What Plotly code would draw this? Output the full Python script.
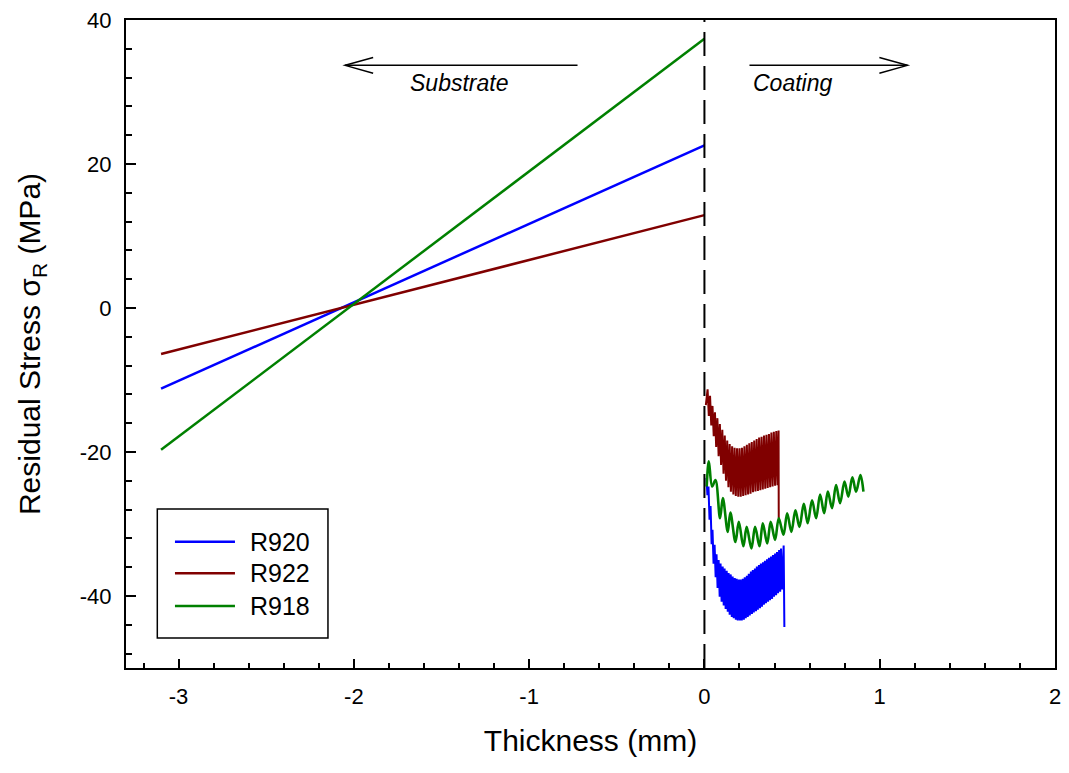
import plotly.graph_objects as go

# ---------------- data ----------------
samples = ["R920", "R922", "R918"]
colors = ["#0000FF", "#800000", "#008000"]

# substrate: linear profiles (thickness, stress)
sub_x = [-3.1, 0.0]
sub_R920 = [-11.2, 22.6]
sub_R922 = [-6.4, 12.9]
sub_R918 = [-19.7, 37.4]

# coating: oscillating profiles
coat_R920_x = [0.012, 0.017, 0.023, 0.029, 0.035, 0.041, 0.046, 0.052, 0.058, 0.064,
               0.069, 0.075, 0.081, 0.087, 0.092, 0.098, 0.104, 0.110, 0.115, 0.121,
               0.127, 0.133, 0.138, 0.144, 0.150, 0.156, 0.161, 0.167, 0.173, 0.179,
               0.184, 0.190, 0.196, 0.202, 0.207, 0.213, 0.219, 0.225, 0.230, 0.236,
               0.242, 0.248, 0.253, 0.259, 0.265, 0.271, 0.276, 0.282, 0.288, 0.294,
               0.299, 0.305, 0.311, 0.317, 0.322, 0.328, 0.334, 0.340, 0.345, 0.351,
               0.357, 0.363, 0.368, 0.374, 0.380, 0.386, 0.391, 0.397, 0.403, 0.409,
               0.414, 0.420, 0.426, 0.432, 0.437, 0.443, 0.452, 0.456]
coat_R920_y = [-23.6, -26.0, -24.8, -29.4, -27.5, -32.8, -30.8, -35.5, -32.9, -37.4,
               -34.2, -38.9, -35.0, -40.1, -35.5, -40.8, -35.9, -41.3, -36.2, -41.8,
               -36.5, -42.2, -36.8, -42.6, -37.0, -42.9, -37.3, -43.1, -37.5, -43.3,
               -37.6, -43.4, -37.7, -43.4, -37.7, -43.4, -37.6, -43.3, -37.4, -43.1,
               -37.2, -42.9, -36.9, -42.7, -36.6, -42.5, -36.4, -42.3, -36.2, -42.1,
               -35.9, -41.9, -35.7, -41.7, -35.5, -41.5, -35.3, -41.2, -35.1, -41.0,
               -34.9, -40.8, -34.7, -40.6, -34.5, -40.4, -34.3, -40.1, -34.1, -39.9,
               -33.9, -39.6, -33.6, -39.4, -33.4, -39.1, -33.0, -44.3]

coat_R922_x = [0.008, 0.018, 0.025, 0.032, 0.039, 0.046, 0.053, 0.060, 0.067, 0.074,
               0.081, 0.088, 0.095, 0.102, 0.109, 0.116, 0.123, 0.130, 0.137, 0.144,
               0.151, 0.158, 0.165, 0.172, 0.179, 0.186, 0.193, 0.200, 0.207, 0.214,
               0.221, 0.228, 0.235, 0.242, 0.249, 0.256, 0.263, 0.270, 0.277, 0.284,
               0.291, 0.298, 0.305, 0.312, 0.319, 0.326, 0.333, 0.340, 0.347, 0.354,
               0.361, 0.368, 0.375, 0.382, 0.389, 0.396, 0.403, 0.410, 0.417, 0.423,
               0.424]
coat_R922_y = [-13.5, -11.3, -15.0, -12.2, -16.3, -13.6, -17.8, -14.5, -19.3, -15.3,
               -20.6, -16.1, -21.8, -16.9, -23.0, -17.7, -24.0, -18.4, -24.9, -18.9,
               -25.5, -19.2, -25.9, -19.4, -26.1, -19.5, -26.2, -19.5, -26.2, -19.4,
               -26.1, -19.2, -26.0, -19.0, -25.9, -18.8, -25.8, -18.6, -25.6, -18.4,
               -25.5, -18.2, -25.4, -18.0, -25.3, -17.9, -25.2, -17.7, -25.1, -17.6,
               -25.0, -17.5, -24.9, -17.3, -24.8, -17.2, -24.7, -17.1, -24.6, -17.0,
               -29.2]

coat_R918_x = [0.013, 0.025, 0.044, 0.063, 0.089, 0.105, 0.133, 0.148, 0.177, 0.196,
               0.222, 0.241, 0.268, 0.289, 0.314, 0.333, 0.358, 0.378, 0.403, 0.424,
               0.451, 0.472, 0.496, 0.519, 0.542, 0.567, 0.589, 0.614, 0.637, 0.660,
               0.683, 0.704, 0.728, 0.751, 0.774, 0.799, 0.821, 0.844, 0.865, 0.890,
               0.907]
coat_R918_y = [-24.8, -21.3, -24.8, -23.9, -29.2, -26.4, -31.1, -28.4, -32.5, -29.7,
               -33.1, -30.4, -33.4, -30.4, -33.1, -29.9, -32.7, -29.7, -32.2, -29.2,
               -31.5, -28.5, -31.1, -28.1, -30.4, -27.2, -29.9, -26.7, -29.2, -25.9,
               -28.5, -25.5, -27.8, -24.6, -27.1, -24.1, -26.2, -23.5, -25.5, -23.2,
               -25.5]

x_ticks = [-3, -2, -1, 0, 1, 2]
y_ticks = [-40, -20, 0, 20, 40]

FONT = "Arial, 'Liberation Sans', sans-serif"

fig = go.Figure()

subs = [sub_R920, sub_R922, sub_R918]
coats = [(coat_R920_x, coat_R920_y), (coat_R922_x, coat_R922_y), (coat_R918_x, coat_R918_y)]

for name, col, sy in zip(samples, colors, subs):
    fig.add_trace(go.Scatter(x=sub_x, y=sy, mode="lines", name=name,
                             line=dict(color=col, width=2.5), showlegend=False))
for name, col, (cx, cy) in zip(samples, colors, coats):
    shape = "spline" if name == "R918" else "linear"
    fig.add_trace(go.Scatter(x=cx, y=cy, mode="lines", name=name,
                             line=dict(color=col, width=2.0 if shape == "linear" else 2.6,
                                       shape=shape, smoothing=1.0),
                             showlegend=False))

shapes = []
# interface dashed line
shapes.append(dict(type="line", xref="x", yref="y", x0=0, x1=0, y0=-50, y1=40,
                   line=dict(color="black", width=2, dash="24px,10px")))
# substrate arrow
shapes.append(dict(type="line", xref="x", yref="y", x0=-0.724, x1=-2.05, y0=33.7, y1=33.7,
                   line=dict(color="black", width=1.5)))
shapes.append(dict(type="path", xref="x", yref="y",
                   path="M -1.89,34.8 L -2.05,33.7 L -1.89,32.6",
                   line=dict(color="black", width=1.5)))
# coating arrow
shapes.append(dict(type="line", xref="x", yref="y", x0=0.257, x1=1.158, y0=33.7, y1=33.7,
                   line=dict(color="black", width=1.5)))
shapes.append(dict(type="path", xref="x", yref="y",
                   path="M 0.998,34.8 L 1.158,33.7 L 0.998,32.6",
                   line=dict(color="black", width=1.5)))

# legend box (paper coords)
shapes.append(dict(type="rect", xref="paper", yref="paper", x0=0.0337, x1=0.2174,
                   y0=0.0463, y1=0.2454, line=dict(color="black", width=1.5),
                   fillcolor="white", layer="below"))
leg_y = [0.1949, 0.1461, 0.0957]
annotations = []
for name, col, ly in zip(samples, colors, leg_y):
    shapes.append(dict(type="line", xref="paper", yref="paper", x0=0.0527, x1=0.1173,
                       y0=ly, y1=ly, line=dict(color=col, width=2.5)))
    annotations.append(dict(xref="paper", yref="paper", x=0.1313, y=ly, text=name,
                            showarrow=False, xanchor="left", yanchor="middle",
                            font=dict(family=FONT, size=25, color="black")))

annotations.append(dict(xref="x", yref="y", x=-1.40, y=31.2, text="<i>Substrate</i>",
                        showarrow=False, xanchor="center", yanchor="middle",
                        font=dict(family=FONT, size=23, color="black")))
annotations.append(dict(xref="x", yref="y", x=0.505, y=31.2, text="<i>Coating</i>",
                        showarrow=False, xanchor="center", yanchor="middle",
                        font=dict(family=FONT, size=23, color="black")))

fig.update_layout(
    width=1069, height=773,
    margin=dict(l=126, r=14, t=20, b=105),
    paper_bgcolor="white", plot_bgcolor="white",
    font=dict(family=FONT, size=22, color="black"),
    shapes=shapes, annotations=annotations,
    showlegend=False,
)
fig.update_xaxes(
    range=[-3.3, 2], tickvals=x_ticks, ticktext=[str(v) for v in x_ticks],
    ticks="inside", ticklen=9, tickwidth=1.5, tickcolor="black",
    minor=dict(dtick=0.2, tick0=0, ticks="inside", ticklen=5, tickwidth=1.5, tickcolor="black"),
    showline=True, linecolor="black", linewidth=2, mirror=True,
    showgrid=False, zeroline=False, automargin=False,
    tickfont=dict(family=FONT, size=22), ticklabelstandoff=8,
    title=dict(text="Thickness (mm)", font=dict(family=FONT, size=30), standoff=22),
)
fig.update_yaxes(
    range=[-50, 40], tickvals=y_ticks, ticktext=[str(v) for v in y_ticks],
    ticks="inside", ticklen=10, tickwidth=1.5, tickcolor="black",
    minor=dict(dtick=4, tick0=0, ticks="inside", ticklen=6, tickwidth=1.5, tickcolor="black"),
    showline=True, linecolor="black", linewidth=2, mirror=True,
    showgrid=False, zeroline=False, automargin=False,
    tickfont=dict(family=FONT, size=22), ticklabelstandoff=8,
    title=dict(text="Residual Stress σ<sub>R</sub> (MPa)", font=dict(family=FONT, size=30), standoff=30),
)

fig.write_html("out.html")
